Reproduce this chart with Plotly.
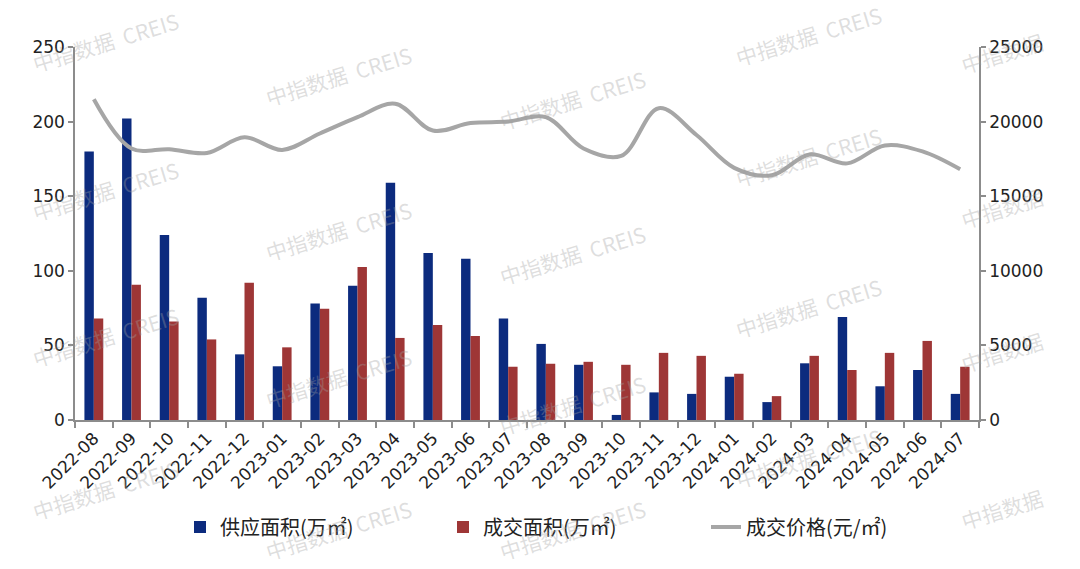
import plotly.graph_objects as go

months = ["2022-08", "2022-09", "2022-10", "2022-11", "2022-12", "2023-01",
          "2023-02", "2023-03", "2023-04", "2023-05", "2023-06", "2023-07",
          "2023-08", "2023-09", "2023-10", "2023-11", "2023-12", "2024-01",
          "2024-02", "2024-03", "2024-04", "2024-05", "2024-06", "2024-07"]

supply_area = [180, 202, 124, 82, 44, 36, 78, 90, 159, 112, 108, 68,
               51, 37, 3.4, 18.5, 17.5, 29, 12, 38, 69, 22.6, 33.5, 17.5]

deal_area = [68, 90.7, 66, 54, 92, 48.7, 74.6, 102.5, 55, 63.7, 56.3, 35.7,
             37.7, 39, 37, 45, 43, 31, 16, 43, 33.5, 45, 53, 35.7]

deal_price = [21500, 18200, 18150, 17900, 18950, 18100, 19200, 20300, 21200,
              19400, 19900, 20000, 20300, 18200, 17700, 20900, 19100, 16900,
              16400, 17800, 17200, 18400, 18000, 16800]

left_ticks = [0, 50, 100, 150, 200, 250]
right_ticks = [0, 5000, 10000, 15000, 20000, 25000]

names = ["供应面积(万㎡)", "成交面积(万㎡)", "成交价格(元/㎡)"]

W, H = 1080, 569
ML, MR, MT, MB = 75, 101, 47, 149

fig = go.Figure()
fig.add_trace(go.Bar(x=months, y=supply_area, name=names[0],
                     marker=dict(color="#0c2b7e", line=dict(width=0)), yaxis="y"))
fig.add_trace(go.Bar(x=months, y=deal_area, name=names[1],
                     marker=dict(color="#9e3636", line=dict(width=0)), yaxis="y"))
fig.add_trace(go.Scatter(x=months, y=deal_price, name=names[2], mode="lines",
                         line=dict(color="#a6a6a6", width=4, shape="spline", smoothing=1.0),
                         yaxis="y2"))

axis_font = dict(family="DejaVu Sans", size=17, color="#222222")

fig.update_layout(
    width=W, height=H,
    margin=dict(l=ML, r=MR, t=MT, b=MB, pad=0),
    paper_bgcolor="white", plot_bgcolor="white",
    barmode="group", bargap=0.5, bargroupgap=0.0,
    font=dict(family="Noto Sans CJK SC", size=16, color="#222222"),
    xaxis=dict(type="category", showline=True, linecolor="#8c8c8c", linewidth=1.5,
               ticks="outside", ticklen=6, tickcolor="#8c8c8c", tickwidth=1.5,
               tickson="boundaries", tickangle=-45, tickfont=axis_font,
               showgrid=False, zeroline=False),
    yaxis=dict(range=[0, 250], tickvals=left_ticks, showline=True, linecolor="#8c8c8c",
               linewidth=1.5, ticks="outside", ticklen=5, tickcolor="#8c8c8c",
               tickwidth=1.5, tickfont=axis_font, showgrid=False, zeroline=False),
    yaxis2=dict(range=[0, 25000], tickvals=right_ticks, tickformat="d",
                overlaying="y", side="right",
                showline=True, linecolor="#8c8c8c", linewidth=1.5, ticks="outside",
                ticklen=5, tickcolor="#8c8c8c", tickwidth=1.5, tickfont=axis_font,
                showgrid=False, zeroline=False),
    legend=dict(orientation="h", x=(180 - ML) / (W - ML - MR), y=(420 - 527) / (420 - 47),
                xanchor="left", yanchor="middle", entrywidth=218, entrywidthmode="pixels",
                font=dict(family="Noto Sans CJK SC", size=20, color="#222222"),
                bgcolor="rgba(0,0,0,0)", traceorder="normal"),
    showlegend=True,
)

# watermark text (page pixel positions)
wm_full = [(105, 42), (105, 191), (105, 337), (105, 490),
           (338, 76), (338, 231), (338, 378), (338, 530),
           (572, 100), (572, 255), (572, 405), (572, 530),
           (808, 36), (808, 157), (808, 308), (808, 458)]
wm_short = [(1002, 53), (1002, 208), (1002, 352), (1002, 509)]
for pts, txt in ((wm_full, "中指数据  CREIS"), (wm_short, "中指数据")):
    for cx, cy in pts:
        fig.add_annotation(text=txt,
                           x=(cx - ML) / (W - ML - MR), y=(H - MB - cy) / (H - MT - MB),
                           xref="paper", yref="paper", showarrow=False,
                           textangle=-17, xanchor="center", yanchor="middle",
                           font=dict(family="Noto Sans CJK SC", size=21,
                                     color="rgba(160,160,160,0.35)"))

fig.write_html("out.html")
